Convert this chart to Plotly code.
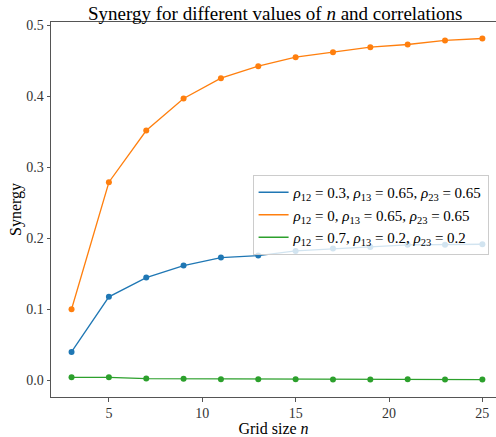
import plotly.graph_objects as go

n_values = [3, 5, 7, 9, 11, 13, 15, 17, 19, 21, 23, 25]
syn_a = [0.040, 0.1175, 0.1446, 0.1615, 0.1728, 0.1756, 0.1822, 0.1855, 0.1878, 0.1907, 0.1907, 0.1916]
syn_b = [0.100, 0.2789, 0.3517, 0.3968, 0.4254, 0.4423, 0.4550, 0.4620, 0.4690, 0.4728, 0.4785, 0.4813]
syn_c = [0.0042, 0.0042, 0.0024, 0.0022, 0.0015, 0.0015, 0.0015, 0.0010, 0.0010, 0.0015, 0.0010, 0.0010]

labels = [
    "<i>ρ</i><sub>12</sub> = 0.3, <i>ρ</i><sub>13</sub> = 0.65, <i>ρ</i><sub>23</sub> = 0.65",
    "<i>ρ</i><sub>12</sub> = 0, <i>ρ</i><sub>13</sub> = 0.65, <i>ρ</i><sub>23</sub> = 0.65",
    "<i>ρ</i><sub>12</sub> = 0.7, <i>ρ</i><sub>13</sub> = 0.2, <i>ρ</i><sub>23</sub> = 0.2",
]
colors = ["#1f77b4", "#ff7f0e", "#2ca02c"]
series = [syn_a, syn_b, syn_c]

FONT = "Liberation Serif"

fig = go.Figure()
for ys, lab, col in zip(series, labels, colors):
    fig.add_trace(go.Scatter(
        x=n_values, y=ys, mode="lines+markers", name=lab,
        line=dict(color=col, width=1.3), marker=dict(color=col, size=6),
        showlegend=False, legendgroup=lab,
    ))
for ys, lab, col in zip(series, labels, colors):
    fig.add_trace(go.Scatter(
        x=[None], y=[None], mode="lines", name=lab,
        line=dict(color=col, width=1.5), showlegend=True, legendgroup=lab,
    ))

fig.update_layout(
    width=496, height=437,
    margin=dict(l=51, r=0, t=22, b=40),
    paper_bgcolor="white", plot_bgcolor="white",
    font=dict(family=FONT, size=14, color="black"),
    title=dict(text="Synergy for different values of <i>n</i> and correlations",
               x=0.555, xanchor="center", y=0.985, yanchor="top",
               font=dict(family=FONT, size=19, color="black")),
    legend=dict(x=0.453, y=0.592, xanchor="left", yanchor="top",
                bgcolor="rgba(255,255,255,0.8)", bordercolor="#cccccc", borderwidth=1,
                font=dict(family=FONT, size=15, color="black"),
                tracegroupgap=0, itemwidth=30),
    showlegend=True,
)
fig.update_xaxes(
    range=[1.9, 25.73], tickvals=[5, 10, 15, 20, 25],
    showgrid=False, zeroline=False,
    showline=True, linecolor="#555555", linewidth=1, mirror=True,
    ticks="outside", ticklen=3.5, tickcolor="#555555",
    tickfont=dict(family=FONT, size=14, color="#333333"),
    title=dict(text="Grid size <i>n</i>", font=dict(family=FONT, size=16, color="black"), standoff=2),
)
fig.update_yaxes(
    range=[-0.0235, 0.5045], tickvals=[0.0, 0.1, 0.2, 0.3, 0.4, 0.5], tickformat=".1f",
    showgrid=False, zeroline=False,
    showline=True, linecolor="#555555", linewidth=1,
    ticks="outside", ticklen=3.5, tickcolor="#555555",
    tickfont=dict(family=FONT, size=14, color="#333333"),
    title=dict(text="Synergy", font=dict(family=FONT, size=16, color="black"), standoff=0),
)

fig.write_html("out.html")
